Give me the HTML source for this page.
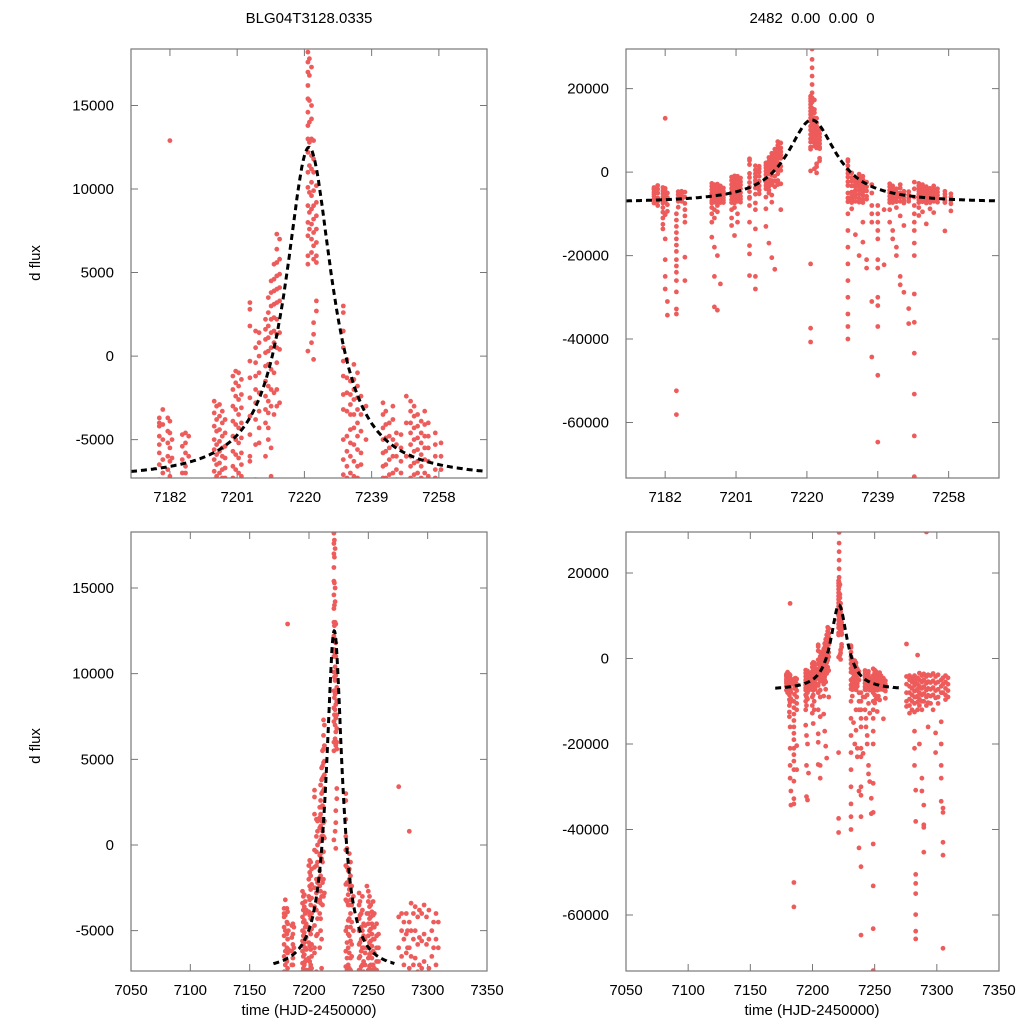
<!DOCTYPE html>
<html><head><meta charset="utf-8"><style>
html,body{margin:0;padding:0;background:#fff;width:1024px;height:1024px;overflow:hidden;}
svg{display:block;font-family:"Liberation Sans",sans-serif;}
</style></head><body>
<svg id="fig" width="1024" height="1024" viewBox="0 0 1024 1024" xmlns="http://www.w3.org/2000/svg">
<text x="309" y="23" font-size="15" text-anchor="middle">BLG04T3128.0335</text>
<text x="812" y="23" font-size="15" text-anchor="middle" xml:space="preserve">2482  0.00  0.00  0</text>
<text transform="translate(40,263) rotate(-90)" font-size="15" text-anchor="middle">d flux</text>
<text transform="translate(40,746) rotate(-90)" font-size="15" text-anchor="middle">d flux</text>
<text x="309" y="1015" font-size="15" text-anchor="middle">time (HJD-2450000)</text>
<text x="812" y="1015" font-size="15" text-anchor="middle">time (HJD-2450000)</text>
</svg>
<script>
// observation nights (HJD-2450000) and fluxes (thousands) per night
const nightTimes = [7179.0,7180.0,7181.4,7182.0,7182.6,7185.0,7185.5,7186.4,7187.3,7194.5,7195.2,7196.0,7196.8,7197.6,7199.8,7200.6,7201.4,7202.2,7204.6,7206.2,7207.2,7209.0,7209.8,7210.6,7211.4,7212.2,7213.0,7221.0,7221.4,7222.0,7222.6,7223.4,7231.0,7232.0,7233.0,7234.0,7235.0,7236.0,7237.4,7239.0,7240.7,7242.2,7243.0,7244.0,7245.0,7246.0,7247.3,7248.8,7250.0,7251.0,7252.0,7253.0,7254.0,7255.0,7257.0,7258.6,7275.6,7278,7280,7282,7283,7284.5,7286,7288,7289.5,7291.6,7293,7295,7297,7299,7301,7303.5,7305,7307,7309];
const nightFlux = [
[-3.7,-4.2,-4.8,-5.3,-5.8,-4.0,-6.5,-7.4],
[-3.2,-4.1,-5.0,-6.2,-7.0,-8.0],
[-3.7,-4.5,-5.2,-6.0,-6.8,-7.4,-8.5,-9.6,-11,-12.5,-13.6],
[12.9,-3.9,-4.6,-5.5,-6.3,-7.2,-10.2,-16,-21,-25,-28],
[-5.0,-6.1,-7.8,-9.4,-31,-34.3],
[-10,-11.5,-13,-14.5,-16,-17.5,-19,-21,-22.5,-24,-26,-28.7,-32.8,-34,-52.4,-58.1],
[-4.7,-5.4,-6.2,-7.0,-8.4],
[-4.6,-5.2,-5.8,-6.6,-7.0],
[-4.8,-6.0,-7.5,-9.0,-10.5,-12,-20.4,-26],
[-2.7,-3.4,-4.2,-5.0,-5.6,-6.2,-6.9,-7.4,-8.5,-10,-12,-15.6],
[-3.0,-3.8,-4.5,-5.3,-5.9,-6.5,-7.2,-9,-11,-18,-25,-32.3],
[-2.9,-3.6,-4.4,-5.1,-5.7,-6.4,-7.0,-7.4,-8,-9.5,-20,-33.1],
[-3.3,-4.0,-4.8,-5.5,-6.0,-6.8,-7.3,-26.8],
[-3.8,-4.6,-5.4,-6.1,-6.7,-7.3],
[-1.2,-2.0,-3.0,-3.9,-4.8,-5.7,-6.6,-7.3,-9,-11,-12.8],
[-0.9,-1.6,-2.4,-3.2,-4.1,-5.0,-5.9,-6.8,-7.4,-8.5,-15.2],
[-1.0,-1.8,-2.6,-3.5,-4.3,-5.2,-6.1,-7.0,-10,-12],
[-1.4,-2.3,-3.1,-4.0,-4.9,-5.8,-6.5,-7.2],
[3.2,2.8,1.8,-0.3,-1.3,-2.5,-3.6,-4.7,-6.0,-6.3,-8,-12,-17.6,-19.6,-24.8],
[1.5,0.5,-0.4,-1.2,-2.0,-2.8,-3.8,-5.3,-7.4,-9,-13.6,-25,-28],
[1.4,0.8,0.0,-1.0,-2.2,-3.3,-4.3,-5.2],
[2.2,1.6,1.0,0.2,-0.6,-1.5,-2.4,-3.2,-4.0,-6.0,-8.8,-13],
[3.5,2.6,1.8,1.1,0.3,-0.5,-1.8,-2.7,-3.4,-4.3,-5.0,-17],
[4.5,3.8,3.0,2.2,1.4,0.5,-0.8,-2.0,-3.0,-5.5,-7.2,-20.5],
[5.5,4.6,3.9,3.1,2.3,1.5,0.8,-1.0,-2.2,-3.5,-23.3],
[7.3,6.4,5.6,4.8,4.0,3.2,2.2,1.3,0.5,-0.4,-2.0,-3.0],
[7.0,5.8,4.9,4.1,3.3,1.4,0.4,-2.8,-9],
[18.2,17.6,17.0,16.2,15.4,14.6,13.8,13.0,12.2,11.0,10.1,9.0,8.0,7.2,6.0,5.5,0.3,-22,-37.4,-40.7],
[29.5,27,25,23,21,19,17.8,16.8,15.3,14.0,12.8,11.4,9.8,8.6,7.6],
[17.3,15.0,14.2,13.0,12.0,11.2,10.4,9.6,8.8,7.9,7.0,6.2,0.8],
[12.9,11.8,11.0,9.9,9.0,8.2,7.4,6.6,5.8,2.0,1.3,-0.2],
[10.2,9.2,8.4,7.6,6.8,6.0,5.6,3.3,2.7],
[3.0,2.6,1.5,0.5,-0.3,-1.2,-2.3,-3.2,-5.0,-6.2,-7.1,-10,-14,-18,-22,-26,-30,-34,-37,-40],
[-0.2,-1.3,-2.2,-3.3,-4.8,-5.7,-6.6,-7.3,-8.8],
[-1.5,-2.3,-2.9,-3.5,-4.4,-5.2,-6.0,-7.0,-15],
[-0.5,-1.4,-2.0,-2.6,-3.5,-4.3,-5.3,-6.3,-7.2,-20],
[-1.0,-1.8,-2.5,-3.2,-4.0,-4.8,-5.6,-6.6,-7.3,-12,-16.8],
[-2.4,-3.5,-4.5,-5.8,-6.5,-21,-23],
[-3,-5,-8,-10,-12,-31,-44.3],
[-8,-10,-12,-14,-16,-21,-23,-30,-32,-37,-48.7,-64.7],
[-9,-22.2],
[-2.8,-3.5,-4.3,-5.0,-5.8,-6.6,-7.3,-9,-12],
[-3.3,-4.1,-4.9,-5.7,-6.5,-7.3,-14,-16],
[-4.0,-4.8,-5.5,-6.2,-7.1,-8.5,-18,-20],
[-3.0,-3.8,-5.0,-6.0,-7.0,-10.5,-25,-27],
[-4.6,-5.3,-6.0,-6.8,-7.4,-12.8,-28.8],
[-4.7,-5.5,-6.3,-7.0,-32.7,-36.3],
[-2.4,-4,-6,-8,-10,-12,-14,-17,-20,-29.2,-36,-43.4,-53.2,-63.2,-73],
[-2.7,-3.3,-4.0,-4.6,-5.3,-6.0,-6.6,-7.3,-8.5,-10.4],
[-3.0,-3.6,-4.3,-5.0,-5.7,-6.4,-7.1,-9.5],
[-3.5,-4.2,-4.9,-5.6,-6.3,-7.0,-7.4,-12.4],
[-3.9,-4.6,-5.2,-5.9,-6.6,-7.3,-8.8],
[-3.3,-4.1,-4.8,-5.5,-6.2,-7.0,-9.7],
[-4.0,-4.8,-5.5,-6.3,-7.2],
[-4.6,-5.3,-6.0,-6.8,-7.3,-14.1],
[-5.2,-6.0,-6.8,-7.6,-9.3],
[3.4,-4.2,-6,-8,-10,-11.2],
[-4,-5,-6.5,-8,-9.5,-11,-12.8],
[-4.5,-5.5,-7,-8.5,-10,-12],
[-4,-5.2,-6.3,-7.6,-9,-10.5,-12.5,-17,-21,-25],
[-5,-6,-7.5,-9,-30.8,-38.1,-50.5,-52.6,-55,-59.9,-63.8,-65.6],
[0.8,-4.5,-6,-7.2,-8.8,-10.2,-12],
[-3.4,-5,-6.5,-8,-9.5,-11,-20],
[-4,-5.5,-7,-8.5,-10,-12,-28,-31],
[-3.6,-5,-6.6,-8.2,-10,-34.3,-38.9,-39.5,-45.3],
[29.6,-4.2,-5.8,-7.4,-9,-11],
[-3.8,-5.4,-7,-8.6,-10.3,-16],
[-4,-5.6,-7.2,-8.8,-10.5],
[-3.5,-5.2,-6.8,-8.5,-12],
[-4.2,-5.8,-7.5,-9.2,-17.4,-22],
[-3.8,-5.5,-7.2,-9,-10.5],
[-5,-6.5,-8,-14.8,-20,-25,-28,-33.4],
[-4.5,-6,-8,-35,-36,-43,-46,-67.8],
[-4,-5.5,-7,-8.5,-9.6],
[-4.5,-6,-7.5,-9]
];
// fit model parameters: peak time, peak flux, baseline flux (thousands), width (days)
const fitParams = [7221.3, 12.5, -7.4, 8.0];
const fitRange = [7170, 7272];
const ticksZoomX = [7182,7201,7220,7239,7258];
const ticksWideX = [7050,7100,7150,7200,7250,7300,7350];
const ticksLeftY = [-5000,0,5000,10000,15000];
const ticksRightY = [-60000,-40000,-20000,0,20000];

const NS='http://www.w3.org/2000/svg';
const svg=document.getElementById('fig');
function mk(tag,attrs,parent){const e=document.createElementNS(NS,tag);for(const k in attrs)e.setAttribute(k,attrs[k]);(parent||svg).appendChild(e);return e;}

const panels=[
 {id:'top-left',x0:131,x1:487,y0:49,y1:478,tx:[7171,7271.6],ty:[-7300,18383],xt:ticksZoomX,yt:ticksLeftY},
 {id:'top-right',x0:626,x1:999,y0:49,y1:478,tx:[7171.5,7271.5],ty:[-73300,29500],xt:ticksZoomX,yt:ticksRightY},
 {id:'bottom-left',x0:131,x1:487,y0:532,y1:971,tx:[7050,7350],ty:[-7355,18270],xt:ticksWideX,yt:ticksLeftY},
 {id:'bottom-right',x0:626,x1:999,y0:532,y1:971,tx:[7050,7350],ty:[-73100,29600],xt:ticksWideX,yt:ticksRightY}
];

panels.forEach((p,pi)=>{
  const sx=t=>p.x0+(t-p.tx[0])/(p.tx[1]-p.tx[0])*(p.x1-p.x0);
  const sy=v=>p.y1-(v-p.ty[0])/(p.ty[1]-p.ty[0])*(p.y1-p.y0);
  const g=mk('g',{});
  
  
  const cp=mk('clipPath',{id:'cp'+pi},g);
  mk('rect',{x:p.x0,y:p.y0,width:p.x1-p.x0,height:p.y1-p.y0},cp);
  p.xt.forEach(t=>{
    const x=sx(t);
    const tk=mk('path',{d:`M${x},${p.y1}v-7M${x},${p.y0}v7`,stroke:'#777','stroke-width':1},g);
    
    
    const lb=mk('text',{x:x,y:p.y1+24,'font-size':15,'text-anchor':'middle'},g);
    lb.textContent=t;
    
    
  });
  p.yt.forEach(v=>{
    const y=sy(v);
    const tk=mk('path',{d:`M${p.x0},${y}h7M${p.x1},${y}h-7`,stroke:'#777','stroke-width':1},g);
    
    
    const lb=mk('text',{x:p.x0-17,y:y+5,'font-size':15,'text-anchor':'end'},g);
    lb.textContent=v;
    
    
  });
  const pg=mk('g',{'clip-path':`url(#cp${pi})`,fill:'#ee5b5b'},g);
  
  
  nightTimes.forEach((t,i)=>{
    nightFlux[i].forEach(f=>{
      const v=f*1000;
      if(v<p.ty[0]-400||v>p.ty[1]+400||t<p.tx[0]-1||t>p.tx[1]+1) return;
      const c=mk('circle',{cx:sx(t).toFixed(1),cy:sy(v).toFixed(1),r:2.4},pg);
      
      
    });
  });
  let d='';
  for(let t=fitRange[0];t<=fitRange[1];t+=0.25){
    if(t<p.tx[0]||t>p.tx[1]) continue;
    const u=(t-fitParams[0])/fitParams[3];
    const f=(fitParams[2]+(fitParams[1]-fitParams[2])/(1+u*u))*1000;
    d+=(d?'L':'M')+sx(t).toFixed(1)+','+sy(f).toFixed(1);
  }
  const cv=mk('path',{d:d,fill:'none',stroke:'#000','stroke-width':3,'stroke-dasharray':'6,4','clip-path':`url(#cp${pi})`},g);
  
  
  const fr=mk('rect',{x:p.x0,y:p.y0,width:p.x1-p.x0,height:p.y1-p.y0,fill:'none',stroke:'#777','stroke-width':1.2},g);
  
  
});
</script>
</body></html>
